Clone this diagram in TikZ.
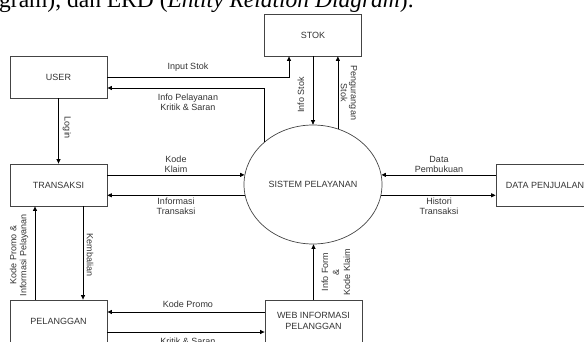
\documentclass[tikz,border=0pt]{standalone}
\usepackage{fontspec}
\setmainfont{Liberation Sans}
\newfontfamily\titlefont{Liberation Serif}
\usetikzlibrary{arrows.meta,shapes.geometric}
\definecolor{txt}{HTML}{333333}
\definecolor{boxline}{HTML}{444444}
\tikzset{
  ent/.style={draw=boxline,line width=0.8pt,rectangle,minimum width=97pt,minimum height=42pt,inner sep=0pt,align=center,text=txt,font=\fontsize{9}{10.5}\selectfont},
  proc/.style={draw=boxline,line width=0.7pt,ellipse,minimum width=138pt,minimum height=119pt,inner sep=0pt,text=txt,font=\fontsize{9}{10.5}\selectfont},
  flow/.style={draw=black,line width=0.7pt,-{Triangle[length=4.5pt,width=4pt]}},
  lbl/.style={text=txt,align=center,inner sep=0pt,font=\fontsize{9}{10}\selectfont}
}
\begin{document}
\begin{tikzpicture}[x=1pt,y=-1pt]
\useasboundingbox (0,0) rectangle (584,342);
\clip (0,0) rectangle (584,342);
\node[anchor=base west,inner sep=0pt,font=\titlefont\fontsize{23.5}{28}\selectfont] (title) at (-1,7.5) {gram), dan ERD (\textit{Entity Relation Diagram}).};
% entities
\node[ent] (stok) at (313,35) {STOK};
\node[ent] (user) at (58.5,77) {USER};
\node[ent] (trans) at (58.5,185) {TRANSAKSI};
\node[ent] (pel) at (58.5,321) {PELANGGAN};
\node[ent] (web) at (313.5,321) {WEB INFORMASI\\PELANGGAN};
\node[ent,minimum width=98pt] (dp) at (545,185) {DATA PENJUALAN};
\node[proc] (sys) at (313,184.5) {SISTEM PELAYANAN};
% helper coordinates
\coordinate (stokIn) at ([xshift=-24pt]stok.south);
\coordinate (userIn) at ([yshift=-11pt]user.east);
% flows
\draw[flow] (user.east) -| (stokIn);
\draw[flow] (sys.139.5) |- (userIn);
\draw[flow] (user) -- (trans);
\draw[flow] (stok.south) -- (sys.north);
\draw[flow] (sys.66.7) -- (sys.66.7 |- stok.south);
\draw[flow] (trans.east |- sys.172.06) -- (sys.172.06);
\draw[flow] (sys.189.64) -- (trans.east |- sys.189.64);
\draw[flow] (dp.west |- sys.8.79) -- (sys.8.79);
\draw[flow] (sys.-9.64) -- (dp.west |- sys.-9.64);
\draw[flow] ([xshift=-23.5pt]pel.north) -- ([xshift=-23.5pt]trans.south);
\draw[flow] ([xshift=24.5pt]trans.south) -- ([xshift=24.5pt]pel.north);
\coordinate (webA) at ([yshift=9pt]web.west);
\coordinate (pelB) at ([yshift=-11pt]pel.east);
\draw[flow] (webA) -- (pel.east |- webA);
\draw[flow] (pelB) -- (web.west |- pelB);
\draw[flow] (web.north) -- (web.north |- sys.south);
% labels
\node[lbl] (l1) at (188,67) {Input Stok};
\node[lbl] (l2) at (188,102) {Info Pelayanan\\Kritik \& Saran};
\node[lbl,rotate=-90] (l3) at (67,128) {Login};
\node[lbl,rotate=90] (l4) at (301,95) {Info Stok};
\node[lbl,rotate=-90] (l5) at (349,93) {Pengurangan\\Stok};
\node[lbl] (l6) at (176,164) {Kode\\Klaim};
\node[lbl] (l7) at (176,206) {Informasi\\Transaksi};
\node[lbl] (l8) at (439,164) {Data\\Pembukuan};
\node[lbl] (l9) at (439,206) {Histori\\Transaksi};
\node[lbl,rotate=90] (l10) at (19,255) {Kode Promo \&\\Informasi Pelayanan};
\node[lbl,rotate=-90] (l11) at (90,255) {Kembalian};
\node[lbl] (l12) at (188,304) {Kode Promo};
\node[lbl] (l13) at (188,341) {Kritik \& Saran};
\node[lbl,rotate=90,font=\fontsize{9}{11}\selectfont] (l14) at (336,272) {Info Form\\\&\\Kode Klaim};
\end{tikzpicture}
\end{document}
